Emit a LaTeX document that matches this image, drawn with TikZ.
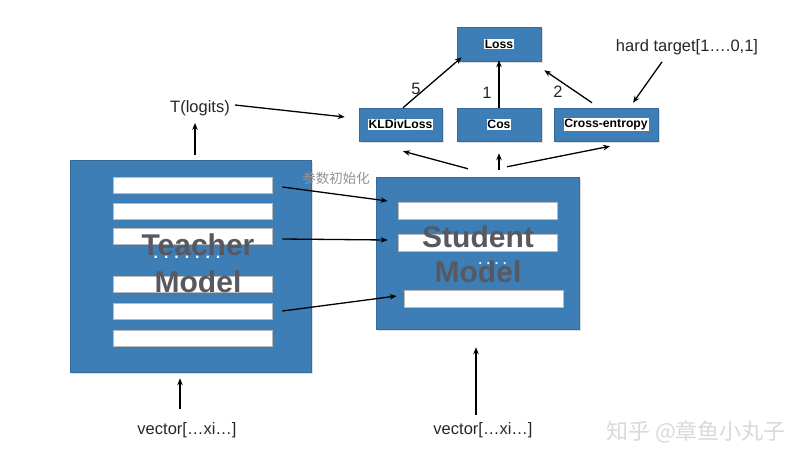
\documentclass[tikz,border=0pt]{standalone}
\usepackage{fontspec}
\setmainfont{Liberation Sans}
\newfontfamily\cjk{Noto Sans CJK SC}
\usetikzlibrary{arrows.meta,shadows}
\definecolor{boxblue}{RGB}{61,126,182}
\definecolor{namegray}{RGB}{88,89,96}
\tikzset{
  blk/.style={fill=boxblue, draw=boxblue!85!black, line width=0.5pt, inner sep=0pt,
    drop shadow={opacity=0.25, shadow xshift=1.5pt, shadow yshift=-1.5pt}},
  bar/.style={fill=white, draw=gray!55, line width=0.7pt, inner sep=0pt, minimum width=159pt, minimum height=16pt},
  lbl/.style={font=\fontsize{12.2}{13}\selectfont\bfseries, fill=white, inner sep=0.8pt, text=black},
  arr/.style={-{Stealth[length=7pt,width=5.5pt]}, line width=1.3pt},
  txt/.style={font=\fontsize{16.5}{18}\selectfont, inner sep=0pt, text=black!85},
  mname/.style={font=\fontsize{30}{32}\selectfont\bfseries, text=namegray, inner sep=0pt},
  dots/.style={text=white, inner sep=0pt, font=\bfseries},
}
\begin{document}
\begin{tikzpicture}[x=1pt,y=-1pt]
\useasboundingbox (0,0) rectangle (810,475);
% teacher
\node[blk, minimum width=241pt, minimum height=212pt] (teacher) at (190.5,266) {};
\node[bar] (tb1) at (192.5,185) {};
\node[bar] (tb2) at (192.5,211) {};
\node[bar] (tb3) at (192.5,236) {};
\node[bar] (tb4) at (192.5,284) {};
\node[bar] (tb5) at (192.5,311) {};
\node[bar] (tb6) at (192.5,338) {};
\node[mname] (tname1) at (198,245) {Teacher};
\node[mname] (tname2) at (198,282) {Model};
\node[dots, font=\fontsize{16}{16}\selectfont\bfseries] (tdots) at (187,257) {. . . . . . .};
% student
\node[blk, minimum width=203pt, minimum height=152pt] (student) at (477.5,253) {};
\node[bar, minimum height=17pt] (sb1) at (477.5,210.5) {};
\node[bar, minimum height=17pt] (sb2) at (477.5,242.5) {};
\node[bar, minimum height=17pt] (sb3) at (483.5,299) {};
\node[mname] (sname1) at (478,237) {Student};
\node[mname] (sname2) at (478,272) {Model};
\node[dots, font=\fontsize{12.6}{13}\selectfont\bfseries] (sdots) at (492.5,264) {. . . .};
% top boxes
\node[blk, minimum width=84pt, minimum height=34pt] (loss) at (499,44) {};
\node[lbl] at (loss) {Loss};
\node[blk, minimum width=83pt, minimum height=33pt] (kl) at (400.5,124.5) {};
\node[lbl] at (kl) {KLDivLoss};
\node[blk, minimum width=84pt, minimum height=33pt] (cos) at (499,124.5) {};
\node[lbl] at (cos) {Cos};
\node[blk, minimum width=104pt, minimum height=33pt] (ce) at (606,124.5) {};
\node[lbl] at (ce) {Cross-entropy};
% texts
\node[txt] (hard) at (687,47) {hard target[1….0,1]};
\node[txt] (tlog) at (200,108) {T(logits)};
\node[txt] (tvec) at (187,430) {vector[…xi…]};
\node[txt] (svec) at (483,430) {vector[…xi…]};
\node[font=\cjk\fontsize{13.5}{14}\selectfont, text=gray!85, inner sep=0pt] (init) at (336,178) {参数初始化};
\node[txt] (l5) at (416,89) {5};
\node[txt] (l1) at (487,93) {1};
\node[txt] (l2) at (558,92) {2};
\node[font=\cjk\fontsize{22}{24}\selectfont, text=gray!30, inner sep=0pt] (wm) at (696,432) {知乎 @章鱼小丸子};
% arrows to loss
\draw[arr] ([xshift=2.5pt]kl.north) -- ([xshift=5pt,yshift=4pt]loss.south west);
\draw[arr] (cos.north) -- ([yshift=1pt]loss.south);
\draw[arr] ([xshift=-14pt,yshift=5pt]ce.north) -- ([xshift=3pt,yshift=-9pt]loss.south east);
\draw[arr] ([xshift=-25pt,yshift=-7pt]hard.south) -- ([xshift=27pt,yshift=5pt]ce.north);
% logits
\draw[arr] ([xshift=5pt,yshift=3pt]tlog.east) -- ([xshift=-14pt,yshift=7.5pt]kl.west);
\draw[arr] ([xshift=4.5pt,yshift=5pt]teacher.north) -- ([xshift=-5pt,yshift=-7pt]tlog.south);
% student to losses
\draw[arr] ([xshift=-9.5pt,yshift=8pt]student.north) -- ([xshift=2.5pt,yshift=-10pt]kl.south);
\draw[arr] ([xshift=21.5pt,yshift=7pt]student.north) -- ([yshift=-12pt]cos.south);
\draw[arr] ([xshift=29.5pt,yshift=10pt]student.north) -- ([xshift=4pt,yshift=-5pt]ce.south);
% teacher to student
\draw[arr] ([xshift=10pt,yshift=-2pt]tb1.east) -- ([xshift=-10pt,yshift=9.5pt]sb1.west);
\draw[arr] ([xshift=10pt,yshift=-3pt]tb3.east) -- ([xshift=-10pt,yshift=2.5pt]sb2.west);
\draw[arr] ([xshift=10pt]tb5.east) -- ([xshift=-7pt,yshift=3pt]sb3.west);
% inputs
\draw[arr] ([xshift=-7pt,yshift=13pt]tvec.north) -- ([xshift=-10.5pt,yshift=-6pt]teacher.south);
\draw[arr] ([xshift=-7pt,yshift=7pt]svec.north) -- ([xshift=-1.5pt,yshift=-18pt]student.south);
\end{tikzpicture}
\end{document}
